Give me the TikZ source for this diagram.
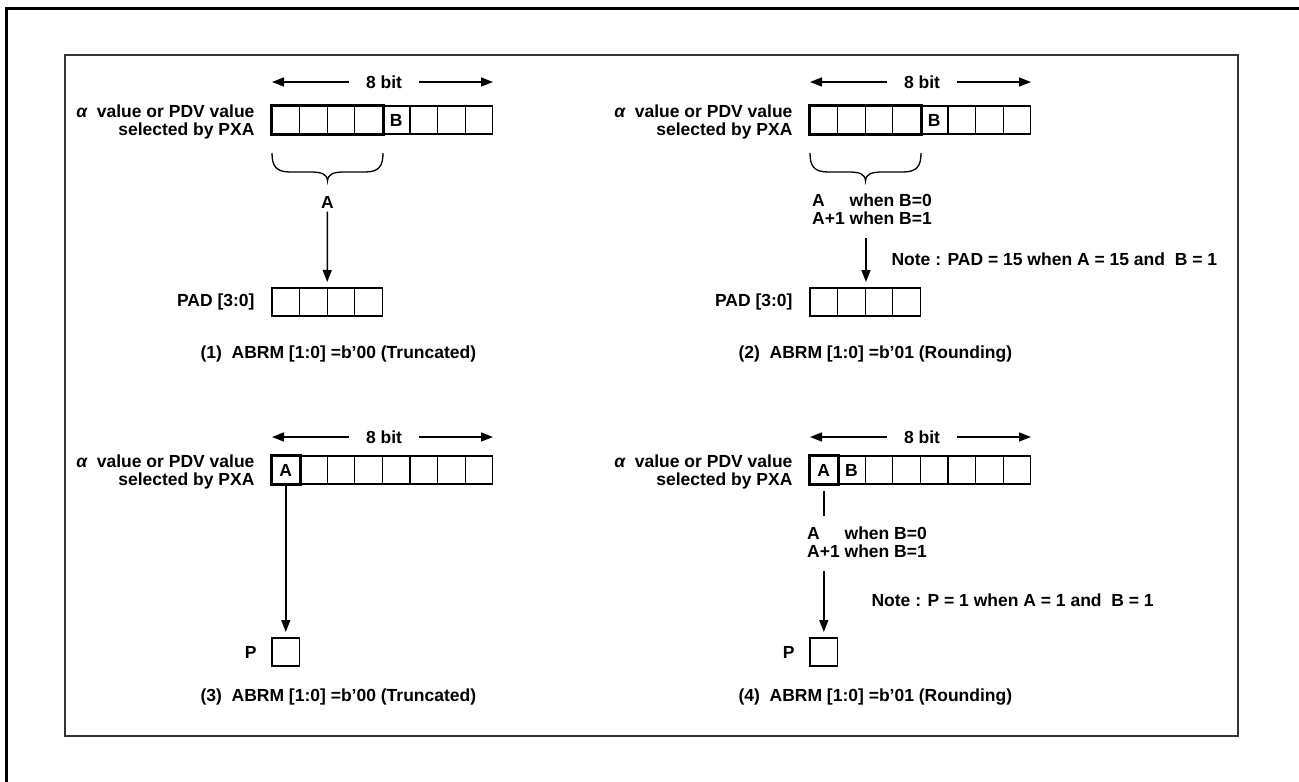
\documentclass[tikz,border=0pt]{standalone}
\usepackage{fontspec}
\setmainfont{Liberation Sans}
\usetikzlibrary{arrows.meta}
\begin{document}
\begin{tikzpicture}[x=1pt,y=-1pt,>={Triangle[length=12pt,width=9pt]},
  font=\fontsize{17.5}{18}\selectfont\bfseries,
  cell/.style={draw,line width=1.3pt,minimum width=27.6pt,minimum height=28pt,inner sep=0pt},
  bits/.style={inner xsep=17pt},
  wire/.style={line width=1.5pt}]
\useasboundingbox (0,0) rectangle (1299,782);
\draw[line width=3pt] (6,790) -- (6,8) -- (1320,8);
\draw[line width=2pt,black!80] (65,55) rectangle (1238,736);

% (1) truncated to PAD
\node[anchor=east,align=right] (la) at (258,122) {{\itshape α}\ \ value or PDV value\\selected by PXA};
\node[bits] (wa) at (384,82) {8 bit};
\coordinate (wal) at (272,82);
\coordinate (war) at (493,82);
\draw[->,wire] (wa) -- (wal);
\draw[->,wire] (wa) -- (war);
\foreach \i in {1,...,8} \node[cell] (ra\i) at ({258.2+27.6*\i},120) {};
\node (ba) at (ra5) {B};
\draw[line width=3pt] (ra1.north west) rectangle (ra4.south east);
\draw[line width=1.3pt] (272,153) .. controls (272,166) and (276,172) .. (290,172) -- (310,172)
  .. controls (322,172) and (327,174) .. (327.5,181) .. controls (328,174) and (333,172) .. (345,172)
  -- (365,172) .. controls (379,172) and (383,166) .. (383,153);
\node (aa) at (327.5,202) {A};
\foreach \i in {1,...,4} \node[cell] (pa\i) at ({258.2+27.6*\i},302) {};
\coordinate (ta) at (327.2,282);
\draw[->,wire] (aa) -- (ta);
\node[anchor=east] (pla) at (258,302) {PAD [3:0]};
\node[anchor=west] (ca) at (197,354) {(1)\ \ ABRM [1:0] =b'00 (Truncated)};

% (2) rounding to PAD
\node[anchor=east,align=right] (lb) at (796,122) {{\itshape α}\ \ value or PDV value\\selected by PXA};
\node[bits] (wb) at (922,82) {8 bit};
\coordinate (wbl) at (810,82);
\coordinate (wbr) at (1031,82);
\draw[->,wire] (wb) -- (wbl);
\draw[->,wire] (wb) -- (wbr);
\foreach \i in {1,...,8} \node[cell] (rb\i) at ({796.2+27.6*\i},120) {};
\node (bb) at (rb5) {B};
\draw[line width=3pt] (rb1.north west) rectangle (rb4.south east);
\draw[line width=1.3pt] (810,153) .. controls (810,166) and (814,172) .. (828,172) -- (848,172)
  .. controls (860,172) and (865,174) .. (865.5,181) .. controls (866,174) and (871,172) .. (883,172)
  -- (903,172) .. controls (917,172) and (921,166) .. (921,153);
\node[anchor=west,inner sep=0pt] (ab) at (812,212) {\begin{tabular}{@{}l@{ }l@{}}A & when B=0\\A+1 & when B=1\end{tabular}};
\coordinate (tb) at (866,282);
\draw[->,wire] ([yshift=-8pt]ab.south -| tb) -- (tb);
\node[anchor=west] (nb) at (888,259) {Note : PAD = 15 when A = 15 and\ \ B = 1};
\foreach \i in {1,...,4} \node[cell] (pb\i) at ({796.2+27.6*\i},302) {};
\node[anchor=east] (plb) at (796,302) {PAD [3:0]};
\node[anchor=west] (cb) at (735,354) {(2)\ \ ABRM [1:0] =b'01 (Rounding)};

% (3) truncated to P
\node[anchor=east,align=right] (lc) at (258,472) {{\itshape α}\ \ value or PDV value\\selected by PXA};
\node[bits] (wc) at (384,437) {8 bit};
\coordinate (wcl) at (272,437);
\coordinate (wcr) at (493,437);
\draw[->,wire] (wc) -- (wcl);
\draw[->,wire] (wc) -- (wcr);
\foreach \i in {1,...,8} \node[cell] (rc\i) at ({258.2+27.6*\i},470) {};
\node (ac) at (rc1) {A};
\draw[line width=3pt] (rc1.north west) rectangle (rc1.south east);
\coordinate (tc) at (285.8,632);
\draw[->,wire] (rc1.south) -- (tc);
\node[cell] (pc) at (285.8,652) {};
\node[anchor=east] (plc) at (260,652) {P};
\node[anchor=west] (cc) at (197,697) {(3)\ \ ABRM [1:0] =b'00 (Truncated)};

% (4) rounding to P
\node[anchor=east,align=right] (ld) at (796,472) {{\itshape α}\ \ value or PDV value\\selected by PXA};
\node[bits] (wd) at (922,437) {8 bit};
\coordinate (wdl) at (810,437);
\coordinate (wdr) at (1031,437);
\draw[->,wire] (wd) -- (wdl);
\draw[->,wire] (wd) -- (wdr);
\foreach \i in {1,...,8} \node[cell] (rd\i) at ({796.2+27.6*\i},470) {};
\node (ad1) at (rd1) {A};
\node (bd) at (rd2) {B};
\draw[line width=3pt] (rd1.north west) rectangle (rd1.south east);
\coordinate (sd) at (823.8,516);
\draw[wire] ([yshift=-6pt]rd1.south) -- (sd);
\node[anchor=west,inner sep=0pt] (ad) at (807,545) {\begin{tabular}{@{}l@{ }l@{}}A & when B=0\\A+1 & when B=1\end{tabular}};
\coordinate (td) at (823.8,632);
\draw[->,wire] ([yshift=-8pt]ad.south -| td) -- (td);
\node[anchor=west] (nd) at (868,600) {Note : P = 1 when A = 1 and\ \ B = 1};
\node[cell] (pd) at (823.8,652) {};
\node[anchor=east] (pld) at (798,652) {P};
\node[anchor=west] (cd) at (735,697) {(4)\ \ ABRM [1:0] =b'01 (Rounding)};
\end{tikzpicture}
\end{document}
